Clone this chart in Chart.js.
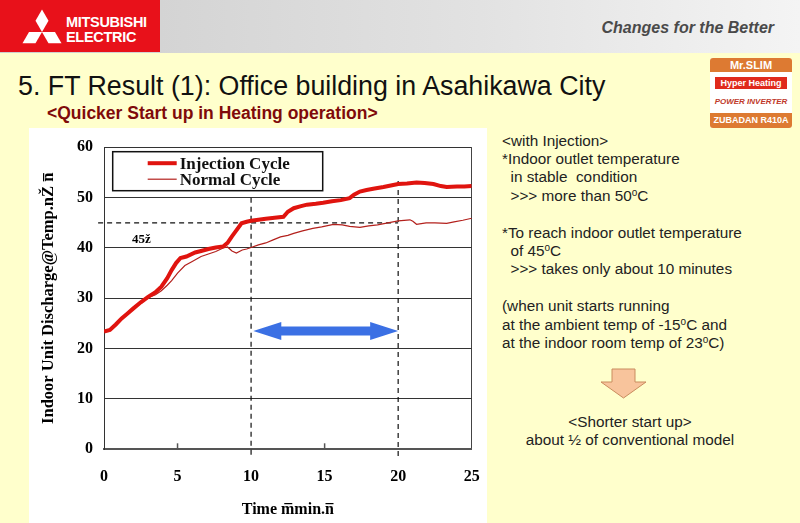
<!DOCTYPE html>
<html>
<head>
<meta charset="utf-8">
<script src="https://cdn.jsdelivr.net/npm/chart.js@4/dist/chart.umd.min.js"></script>
<style>
  html, body { margin: 0; padding: 0; }
  body { width: 800px; height: 523px; position: relative; overflow: hidden; background: #ffffcc; font-family: "Liberation Sans", Arial, sans-serif; }
  .header { position: absolute; left: 0; top: 0; width: 800px; height: 53px; background: linear-gradient(to right, #cdcdcd, #e2e2e2 60%, #f4f4f4); }
  .logo { position: absolute; left: 0; top: 0; width: 160px; height: 52px; background: #e8111a; }
  .logo svg { position: absolute; left: 0; top: 0; }
  .logo .brand { position: absolute; left: 66px; top: 15px; color: #fff; font: bold 14.5px/15px "Liberation Sans", Arial, sans-serif; letter-spacing: -0.3px; }
  .slogan { position: absolute; right: 26px; top: 19px; color: #4a4a4a; font: italic bold 16px "Liberation Sans Narrow", "Liberation Sans", Arial, sans-serif; }
  .title { position: absolute; left: 18px; top: 71px; font-size: 26.8px; line-height: 31px; color: #111; white-space: nowrap; }
  .subtitle { position: absolute; left: 47px; top: 103px; font-size: 17.5px; line-height: 20px; font-weight: bold; color: #7f0a0a; white-space: nowrap; }
  .badge { position: absolute; left: 710px; top: 58px; width: 82px; height: 70px; background: #fff; border-radius: 3px; overflow: hidden; font-family: "Liberation Sans", Arial, sans-serif; }
  .badge .top { height: 14px; background: #dd7a32; color: #fff; font: bold 11px/14px "Liberation Sans", sans-serif; text-align: center; }
  .badge .mid { position: relative; height: 41px; background: #fff; }
  .badge .hyper { position: absolute; left: 5px; top: 5px; width: 72px; height: 12px; background: #e02a1c; color: #fff; font: bold 9px/12px sans-serif; text-align: center; }
  .badge .inv { position: absolute; left: 0; top: 25px; width: 82px; text-align: center; color: #c0392b; font: italic bold 8px sans-serif; }
  .badge .bot { height: 15px; background: #dd7a32; color: #fff; font: bold 9px/15px sans-serif; text-align: center; }
  .panel { position: absolute; left: 29px; top: 128px; width: 458px; height: 395px; background: #fff; }
  .notes { position: absolute; left: 502px; top: 131.5px; font-size: 15.3px; line-height: 18.4px; color: #222; white-space: pre; }
  .notes sup { font-size: 10px; vertical-align: 5px; line-height: 0; }
  .summary { position: absolute; left: 502px; top: 412.5px; width: 256px; text-align: center; font-size: 15.3px; line-height: 18.4px; color: #222; }
  .down { position: absolute; left: 600px; top: 368px; }
</style>
</head>
<body>
<div class="header"></div>
<div class="logo">
  <svg width="64" height="52" viewBox="0 0 64 52">
    <polygon fill="#fff" points="42,32 48.5,20.7 42,9.5 35.5,20.7"/>
    <polygon fill="#fff" points="42,32 29,32 22.5,43.3 35.5,43.3"/>
    <polygon fill="#fff" points="42,32 55,32 61.5,43.3 48.5,43.3"/>
  </svg>
  <div class="brand">MITSUBISHI<br>ELECTRIC</div>
</div>
<div class="slogan">Changes for the Better</div>
<div class="title">5. FT Result (1): Office building in Asahikawa City</div>
<div class="subtitle">&lt;Quicker Start up in Heating operation&gt;</div>
<div class="badge">
  <div class="top">Mr.SLIM</div>
  <div class="mid"><div class="hyper">Hyper Heating</div><div class="inv">POWER INVERTER</div></div>
  <div class="bot">ZUBADAN R410A</div>
</div>

<div class="panel"><canvas id="ftChart" width="458" height="395"></canvas></div>

<div class="notes">&lt;with Injection&gt;
*Indoor outlet temperature
  in stable  condition
  &gt;&gt;&gt; more than 50<sup>o</sup>C

*To reach indoor outlet temperature
  of 45<sup>o</sup>C
  &gt;&gt;&gt; takes only about 10 minutes

(when unit starts running
at the ambient temp of -15<sup>o</sup>C and
at the indoor room temp of 23<sup>o</sup>C)</div>
<svg class="down" width="50" height="32" viewBox="0 0 50 32">
  <polygon points="12,1 35,1 35,14 46,14 23.5,30 1,14 12,14" fill="#f8c49c" stroke="#c98c5e" stroke-width="1"/>
</svg>
<div class="summary">&lt;Shorter start up&gt;<br>about ½ of conventional model</div>

<script>
// ===== FT result: discharge temperature vs time =====
const injTime = [0, 0.4, 0.8, 1.2, 1.6, 2.0, 2.5, 3.0, 3.5, 3.9, 4.3, 4.6, 4.9, 5.2, 5.6, 6.2, 6.6, 7.1, 7.6, 8.1, 8.4, 8.7, 9.0, 9.35, 9.7, 10.0, 10.5, 11.0, 11.6, 12.2, 12.5, 12.9, 13.4, 13.8, 14.4, 14.9, 15.5, 16.1, 16.7, 17.0, 17.4, 17.85, 18.4, 19.0, 19.5, 20.0, 20.6, 21.25, 21.8, 22.4, 22.9, 23.3, 24.0, 24.5, 25]
const injTemp = [23.4, 23.7, 24.8, 26.0, 27.0, 28.0, 29.2, 30.3, 31.2, 32.3, 34.0, 35.6, 37.0, 38.0, 38.3, 39.1, 39.4, 39.8, 40.1, 40.3, 41.0, 42.3, 43.5, 44.9, 45.2, 45.4, 45.6, 45.8, 46.0, 46.2, 47.2, 47.9, 48.3, 48.6, 48.8, 49.0, 49.3, 49.5, 49.9, 50.6, 51.2, 51.5, 51.8, 52.1, 52.4, 52.7, 52.8, 53.0, 52.9, 52.7, 52.3, 52.1, 52.2, 52.2, 52.3]

const normTime = [0, 0.4, 0.8, 1.2, 1.6, 2.0, 2.5, 3.0, 3.5, 3.9, 4.3, 4.6, 5.0, 5.5, 6.0, 6.6, 7.1, 7.6, 8.1, 8.4, 8.7, 9.0, 9.4, 9.7, 10.0, 10.5, 11.0, 11.5, 12.0, 12.5, 12.9, 13.5, 14.2, 14.8, 15.6, 16.2, 16.7, 17.4, 18.0, 18.6, 19.3, 20.0, 20.8, 21.0, 21.25, 21.9, 22.5, 23.3, 23.8, 24.4, 25]
const normTemp = [23.4, 23.6, 24.6, 25.8, 26.8, 27.8, 29.0, 30.1, 30.7, 31.5, 32.6, 33.5, 35.0, 36.5, 37.3, 38.3, 38.8, 39.3, 40.0, 40.2, 39.4, 39.0, 39.6, 39.8, 40.1, 40.6, 41.0, 41.6, 42.2, 42.5, 42.9, 43.4, 43.9, 44.2, 44.7, 44.6, 44.3, 44.1, 44.4, 44.6, 45.0, 45.4, 45.6, 45.3, 44.7, 45.0, 45.0, 44.9, 45.2, 45.5, 45.9]

const seriesLabels = ['Injection Cycle', 'Normal Cycle']

// reference marks
const refTemp = 45
const refTimes = [10, 20]
const refTops = [50, 53.3]
const spanArrow = [10.15, 20.0]
const spanArrowTemp = 23.5
const refLabel = '45ž'
const refLabelAt = [1.9, 41.6]
const minorTicks = [5, 15]

const toPoints = (xs, ys) => xs.map((x, i) => ({ x: x, y: ys[i] }))

const serif = 'Liberation Serif, Times New Roman, serif'

const overlayPlugin = {
  id: 'overlay',
  beforeDatasetsDraw(chart) {
    const { ctx, chartArea, scales: { x, y } } = chart
    ctx.save()
    ctx.strokeStyle = '#111'
    ctx.lineWidth = 1.2
    ctx.setLineDash([5, 4])
    // horizontal 45 line
    ctx.beginPath()
    ctx.moveTo(x.getPixelForValue(-0.4), y.getPixelForValue(refTemp))
    ctx.lineTo(x.getPixelForValue(refTimes[1]), y.getPixelForValue(refTemp))
    ctx.stroke()
    // vertical lines
    refTimes.forEach((t, i) => {
      ctx.beginPath()
      ctx.moveTo(x.getPixelForValue(t), y.getPixelForValue(refTops[i]))
      ctx.lineTo(x.getPixelForValue(t), chartArea.bottom + 9)
      ctx.stroke()
    })
    ctx.setLineDash([])
    // small inward ticks
    ctx.strokeStyle = '#555'
    ctx.lineWidth = 1.5
    minorTicks.forEach(t => {
      ctx.beginPath()
      ctx.moveTo(x.getPixelForValue(t), chartArea.bottom)
      ctx.lineTo(x.getPixelForValue(t), chartArea.bottom - 6)
      ctx.stroke()
    })
    // 45 label
    ctx.fillStyle = '#000'
    ctx.font = 'bold 13px ' + serif
    ctx.textBaseline = 'middle'
    ctx.fillText(refLabel, x.getPixelForValue(refLabelAt[0]), y.getPixelForValue(refLabelAt[1]))
    // blue double arrow
    const x1 = x.getPixelForValue(spanArrow[0])
    const x2 = x.getPixelForValue(spanArrow[1])
    const yc = y.getPixelForValue(spanArrowTemp)
    const head = 28, hh = 9, sh = 4.5
    ctx.fillStyle = '#3b70e4'
    ctx.beginPath()
    ctx.moveTo(x1, yc)
    ctx.lineTo(x1 + head, yc - hh)
    ctx.lineTo(x1 + head, yc - sh)
    ctx.lineTo(x2 - head, yc - sh)
    ctx.lineTo(x2 - head, yc - hh)
    ctx.lineTo(x2, yc)
    ctx.lineTo(x2 - head, yc + hh)
    ctx.lineTo(x2 - head, yc + sh)
    ctx.lineTo(x1 + head, yc + sh)
    ctx.lineTo(x1 + head, yc + hh)
    ctx.closePath()
    ctx.fill()
    ctx.restore()
  },
  afterDraw(chart) {
    // legend box
    const { ctx, chartArea } = chart
    const bx = chartArea.left + 8.7, by = chartArea.top + 4.4, bw = 210, bh = 39
    ctx.save()
    ctx.fillStyle = '#fff'
    ctx.fillRect(bx, by, bw, bh)
    ctx.strokeStyle = '#111'
    ctx.lineWidth = 1.5
    ctx.strokeRect(bx, by, bw, bh)
    ctx.font = 'bold 17px ' + serif
    ctx.textBaseline = 'middle'
    chart.data.datasets.forEach((ds, i) => {
      const yy = by + 11.5 + i * 16
      ctx.strokeStyle = ds.borderColor
      ctx.lineWidth = ds.borderWidth
      ctx.beginPath()
      ctx.moveTo(bx + 35, yy)
      ctx.lineTo(bx + 64, yy)
      ctx.stroke()
      ctx.fillStyle = '#111'
      ctx.fillText(ds.label, bx + 67, yy + 1)
    })
    ctx.restore()
  }
}

const ctx = document.getElementById('ftChart').getContext('2d')
window.ftChart = new Chart(ctx, {
  type: 'line',
  data: {
    datasets: [{
      label: seriesLabels[0],
      data: toPoints(injTime, injTemp),
      borderColor: '#e0140f',
      borderWidth: 4,
      pointRadius: 0,
      tension: 0
    }, {
      label: seriesLabels[1],
      data: toPoints(normTime, normTemp),
      borderColor: '#b3201c',
      borderWidth: 1.2,
      pointRadius: 0,
      tension: 0
    }]
  },
  options: {
    responsive: false,
    animation: false,
    layout: { padding: { left: 0, right: 15.3, top: 19.3, bottom: 0 } },
    plugins: { legend: { display: false }, tooltip: { enabled: false } },
    scales: {
      x: {
        type: 'linear',
        min: 0,
        max: 25,
        // tick marks kept invisible; their length only spaces the labels
        ticks: { stepSize: 5, color: '#000', padding: 2, font: { family: serif, size: 16, weight: 'bold' } },
        grid: { drawTicks: true, tickLength: 16, tickColor: 'rgba(0,0,0,0)', color: c => c.tick && c.tick.value === 25 ? '#444' : 'rgba(0,0,0,0)' },
        border: { color: '#555', width: 2 },
        title: { display: true, text: 'Time m\u0305min.n\u0305', color: '#000', padding: { top: 0, bottom: 4 }, font: { family: serif, size: 16, weight: 'bold' } },
        afterFit: s => { s.height = 73.7 }
      },
      y: {
        min: 0,
        max: 60,
        ticks: { stepSize: 10, color: '#000', padding: 2, font: { family: serif, size: 16, weight: 'bold' } },
        grid: { drawTicks: true, tickLength: 9, tickColor: 'rgba(0,0,0,0)', color: '#333' },
        border: { color: '#333', width: 1 },
        title: { display: true, text: 'Indoor Unit Discharge@Temp.n\u017D n\u0305', color: '#000', padding: { top: 10, bottom: 0 }, font: { family: serif, size: 16.5, weight: 'bold' } },
        afterFit: s => { s.width = 75 }
      }
    }
  },
  plugins: [overlayPlugin]
})
</script>
</body>
</html>
